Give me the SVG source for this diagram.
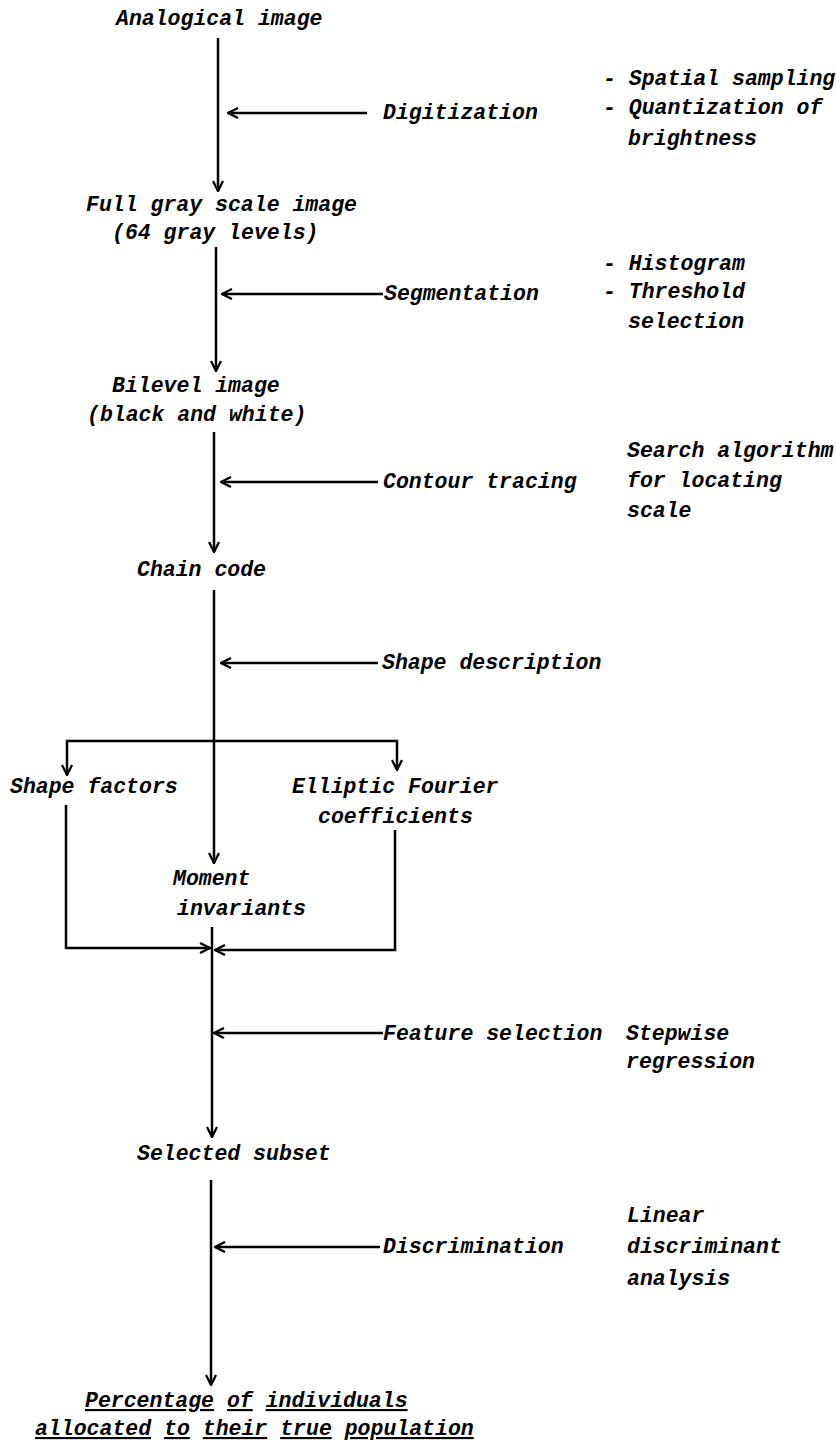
<svg xmlns="http://www.w3.org/2000/svg" width="836" height="1442" viewBox="0 0 836 1442">
<style>
text{font-family:"Liberation Mono","Courier New",monospace;font-style:italic;font-weight:bold;font-size:21.5px;fill:#000}
.u{text-decoration:underline}
.c{stroke:#000;stroke-width:2.5;fill:none}
</style>
<defs>
<marker id="ah" viewBox="0 0 12 12" refX="11" refY="6" markerWidth="12" markerHeight="12" markerUnits="userSpaceOnUse" orient="auto">
<path d="M1,1 L11,6 L1,11" fill="none" stroke="#000" stroke-width="2.3"/>
</marker>
</defs>
<rect width="836" height="1442" fill="#fff"/>
<g id="connectors">
<path class="c" d="M218,38 V191" marker-end="url(#ah)"/>
<path class="c" d="M367,113 H228" marker-end="url(#ah)"/>
<path class="c" d="M216,247 V371" marker-end="url(#ah)"/>
<path class="c" d="M383,294 H222" marker-end="url(#ah)"/>
<path class="c" d="M214,432 V552" marker-end="url(#ah)"/>
<path class="c" d="M378,482 H221" marker-end="url(#ah)"/>
<path class="c" d="M214,590 V863" marker-end="url(#ah)"/>
<path class="c" d="M378,663 H221" marker-end="url(#ah)"/>
<path class="c" d="M214,741 H67 V775" marker-end="url(#ah)"/>
<path class="c" d="M214,741 H397 V770" marker-end="url(#ah)"/>
<path class="c" d="M66,805 V948 H210" marker-end="url(#ah)"/>
<path class="c" d="M395,830 V950 H215" marker-end="url(#ah)"/>
<path class="c" d="M212,927 V1137" marker-end="url(#ah)"/>
<path class="c" d="M383,1033 H214" marker-end="url(#ah)"/>
<path class="c" d="M211,1180 V1385" marker-end="url(#ah)"/>
<path class="c" d="M380,1247 H215" marker-end="url(#ah)"/>
</g>
<g id="analogical"><text x="116" y="25">Analogical image</text></g>
<g id="digitization"><text x="383" y="119">Digitization</text></g>
<g id="digit-notes"><text x="603" y="85">- Spatial sampling</text><text x="603" y="114">- Quantization of</text><text x="628" y="145">brightness</text></g>
<g id="fullgray"><text x="86" y="211">Full gray scale image</text><text x="112" y="239">(64 gray levels)</text></g>
<g id="segmentation"><text x="384" y="300">Segmentation</text></g>
<g id="seg-notes"><text x="603" y="270">- Histogram</text><text x="603" y="298">- Threshold</text><text x="628" y="328">selection</text></g>
<g id="bilevel"><text x="112" y="392">Bilevel image</text><text x="87" y="421">(black and white)</text></g>
<g id="contour"><text x="383" y="488">Contour tracing</text></g>
<g id="contour-notes"><text x="627" y="457">Search algorithm</text><text x="627" y="487">for locating</text><text x="627" y="517">scale</text></g>
<g id="chain"><text x="137" y="576">Chain code</text></g>
<g id="shape-desc"><text x="382" y="669">Shape description</text></g>
<g id="shape-factors"><text x="10" y="793">Shape factors</text></g>
<g id="elliptic"><text x="292" y="793">Elliptic Fourier</text><text x="318" y="823">coefficients</text></g>
<g id="moment"><text x="173" y="885">Moment</text><text x="177" y="915">invariants</text></g>
<g id="feature"><text x="383" y="1040">Feature selection</text></g>
<g id="feature-notes"><text x="626" y="1040">Stepwise</text><text x="626" y="1068">regression</text></g>
<g id="selected"><text x="137" y="1160">Selected subset</text></g>
<g id="discrimination"><text x="383" y="1253">Discrimination</text></g>
<g id="discr-notes"><text x="627" y="1222">Linear</text><text x="627" y="1253">discriminant</text><text x="627" y="1285">analysis</text></g>
<g id="result"><text x="85" y="1407"><tspan class="u">Percentage</tspan> <tspan class="u">of</tspan> <tspan class="u">individuals</tspan></text><text x="35" y="1435"><tspan class="u">allocated</tspan> <tspan class="u">to</tspan> <tspan class="u">their</tspan> <tspan class="u">true</tspan> <tspan class="u">population</tspan></text></g>
</svg>
